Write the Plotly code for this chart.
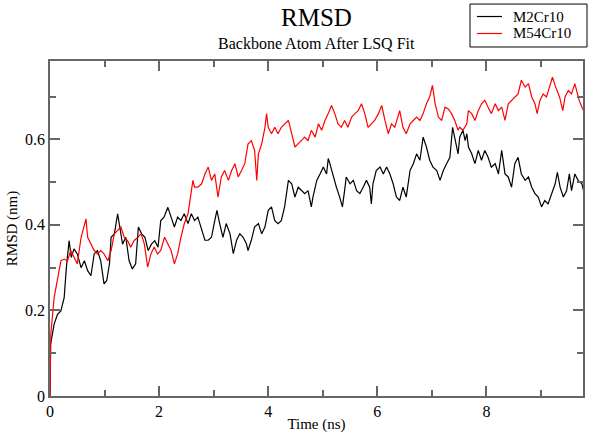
import plotly.graph_objects as go

# time (ns) and RMSD (nm)
t_m2 = [0.0, 0.01, 0.076, 0.138, 0.199, 0.26, 0.30, 0.35, 0.39, 0.44, 0.50, 0.57, 0.63, 0.69, 0.75,
        0.81, 0.87, 0.93, 0.99, 1.04, 1.09, 1.12, 1.18, 1.24, 1.27, 1.33, 1.39, 1.45, 1.51, 1.57,
        1.62, 1.68, 1.74, 1.80, 1.86, 1.92, 1.98, 2.03, 2.09, 2.16, 2.22, 2.28, 2.34, 2.40, 2.46,
        2.53, 2.59, 2.65, 2.71, 2.78, 2.84, 2.90, 2.96, 3.02, 3.06, 3.11, 3.17, 3.23, 3.30, 3.36,
        3.42, 3.48, 3.54, 3.60, 3.63, 3.69, 3.75, 3.82, 3.88, 3.94, 4.00, 4.06, 4.12, 4.18, 4.24,
        4.30, 4.37, 4.43, 4.49, 4.55, 4.61, 4.67, 4.73, 4.79, 4.82, 4.89, 4.95, 5.01, 5.07, 5.10,
        5.13, 5.19, 5.25, 5.31, 5.36, 5.40, 5.43, 5.50, 5.56, 5.62, 5.68, 5.74, 5.80, 5.86, 5.89,
        5.92, 5.98, 6.05, 6.11, 6.17, 6.23, 6.29, 6.35, 6.41, 6.47, 6.53, 6.60, 6.66, 6.72, 6.78,
        6.84, 6.90, 6.96, 7.02, 7.09, 7.15, 7.21, 7.27, 7.33, 7.38, 7.42, 7.48, 7.51, 7.57, 7.61,
        7.64, 7.67, 7.73, 7.79, 7.85, 7.91, 7.97, 8.03, 8.09, 8.16, 8.22, 8.28, 8.34, 8.40, 8.46,
        8.52, 8.58, 8.64, 8.71, 8.77, 8.83, 8.89, 8.95, 9.01, 9.07, 9.13, 9.20, 9.26, 9.30, 9.35,
        9.41, 9.47, 9.52, 9.56, 9.62, 9.68, 9.75, 9.78]
rmsd_m2 = [0.0, 0.12, 0.168, 0.191, 0.199, 0.23, 0.30, 0.363, 0.324, 0.344, 0.332, 0.30, 0.316, 0.293, 0.281,
           0.332, 0.34, 0.316, 0.262, 0.27, 0.309, 0.371, 0.379, 0.426, 0.402, 0.355, 0.371, 0.316, 0.297, 0.309,
           0.395, 0.379, 0.371, 0.34, 0.355, 0.363, 0.348, 0.41, 0.418, 0.441, 0.418, 0.395, 0.418, 0.41, 0.426,
           0.403, 0.426, 0.41, 0.418, 0.387, 0.364, 0.364, 0.371, 0.41, 0.434, 0.403, 0.371, 0.403, 0.379, 0.333,
           0.364, 0.379, 0.371, 0.356, 0.34, 0.364, 0.395, 0.403, 0.379, 0.395, 0.434, 0.442, 0.41, 0.403, 0.41,
           0.442, 0.504, 0.496, 0.465, 0.488, 0.48, 0.473, 0.48, 0.442, 0.465, 0.504, 0.519, 0.535, 0.519, 0.555,
           0.543, 0.512, 0.488, 0.465, 0.442, 0.48, 0.512, 0.496, 0.504, 0.48, 0.473, 0.488, 0.504, 0.488, 0.449,
           0.496, 0.527, 0.535, 0.519, 0.535, 0.519, 0.496, 0.465, 0.457, 0.488, 0.465, 0.527, 0.543, 0.566, 0.551,
           0.605, 0.582, 0.551, 0.535, 0.527, 0.504, 0.527, 0.543, 0.558, 0.628, 0.605, 0.566, 0.605, 0.621, 0.597,
           0.613, 0.582, 0.566, 0.543, 0.574, 0.551, 0.574, 0.558, 0.535, 0.543, 0.519, 0.574, 0.519, 0.512, 0.488,
           0.543, 0.558, 0.519, 0.504, 0.512, 0.488, 0.473, 0.465, 0.442, 0.457, 0.449, 0.473, 0.496, 0.523, 0.488,
           0.465, 0.48, 0.519, 0.48, 0.519, 0.504, 0.496, 0.48]

t_m54 = [0.0, 0.015, 0.076, 0.138, 0.199, 0.26, 0.32, 0.38, 0.44, 0.50, 0.57, 0.63, 0.66, 0.69, 0.75,
         0.81, 0.87, 0.93, 0.99, 1.06, 1.12, 1.18, 1.24, 1.30, 1.36, 1.42, 1.48, 1.54, 1.61, 1.67,
         1.73, 1.79, 1.85, 1.91, 1.97, 2.03, 2.10, 2.16, 2.22, 2.28, 2.34, 2.40, 2.46, 2.53, 2.59,
         2.62, 2.65, 2.71, 2.78, 2.84, 2.90, 2.96, 3.02, 3.08, 3.14, 3.20, 3.27, 3.33, 3.39, 3.45,
         3.51, 3.57, 3.63, 3.69, 3.75, 3.79, 3.82, 3.88, 3.94, 3.97, 4.00, 4.06, 4.12, 4.18, 4.24,
         4.30, 4.37, 4.43, 4.49, 4.55, 4.61, 4.67, 4.73, 4.79, 4.86, 4.92, 4.98, 5.04, 5.10, 5.16,
         5.22, 5.28, 5.34, 5.40, 5.46, 5.53, 5.59, 5.65, 5.71, 5.77, 5.83, 5.89, 5.95, 6.02, 6.08,
         6.14, 6.20, 6.26, 6.32, 6.41, 6.47, 6.53, 6.60, 6.66, 6.72, 6.78, 6.84, 6.90, 6.96, 7.01,
         7.06, 7.12, 7.18, 7.24, 7.30, 7.36, 7.42, 7.48, 7.51, 7.57, 7.64, 7.67, 7.73, 7.79, 7.85,
         7.91, 7.97, 8.03, 8.09, 8.16, 8.22, 8.28, 8.34, 8.40, 8.46, 8.52, 8.58, 8.64, 8.71, 8.77,
         8.83, 8.89, 8.93, 8.98, 9.04, 9.10, 9.16, 9.21, 9.27, 9.34, 9.40, 9.44, 9.50, 9.56, 9.62,
         9.67, 9.70, 9.75, 9.78]
rmsd_m54 = [0.0, 0.145, 0.23, 0.27, 0.316, 0.32, 0.316, 0.34, 0.324, 0.309, 0.371, 0.402, 0.414, 0.371, 0.355,
            0.34, 0.332, 0.34, 0.332, 0.316, 0.34, 0.379, 0.387, 0.395, 0.371, 0.363, 0.348, 0.363, 0.371, 0.379,
            0.355, 0.301, 0.332, 0.348, 0.332, 0.34, 0.371, 0.355, 0.34, 0.309, 0.332, 0.371, 0.402, 0.426, 0.473,
            0.504, 0.488, 0.488, 0.496, 0.519, 0.535, 0.504, 0.519, 0.465, 0.512, 0.527, 0.504, 0.527, 0.543, 0.512,
            0.527, 0.543, 0.589, 0.597, 0.574, 0.504, 0.566, 0.589, 0.628, 0.66, 0.628, 0.613, 0.628, 0.613, 0.628,
            0.636, 0.644, 0.613, 0.582, 0.59, 0.597, 0.605, 0.597, 0.621, 0.605, 0.636, 0.621, 0.644, 0.66, 0.679,
            0.66, 0.636, 0.628, 0.644, 0.628, 0.652, 0.66, 0.667, 0.683, 0.66, 0.628, 0.636, 0.644, 0.66, 0.679,
            0.644, 0.613, 0.636, 0.628, 0.667, 0.628, 0.613, 0.636, 0.644, 0.652, 0.644, 0.66, 0.683, 0.699, 0.726,
            0.683, 0.652, 0.644, 0.675, 0.671, 0.66, 0.644, 0.621, 0.628, 0.621, 0.636, 0.667, 0.66, 0.644, 0.667,
            0.683, 0.691, 0.675, 0.66, 0.683, 0.667, 0.675, 0.644, 0.683, 0.691, 0.699, 0.706, 0.738, 0.722, 0.73,
            0.699, 0.683, 0.66, 0.691, 0.706, 0.699, 0.722, 0.745, 0.722, 0.699, 0.667, 0.699, 0.714, 0.706, 0.73,
            0.706, 0.691, 0.675, 0.667]

names = ["M2Cr10", "M54Cr10"]
colors = ["black", "#ff0000"]

serif = "Liberation Serif, Times New Roman, serif"
frame = "#666666"

fig = go.Figure()
fig.add_trace(go.Scatter(x=t_m2, y=rmsd_m2, mode="lines", name=names[0],
                         line=dict(color=colors[0], width=1.2)))
fig.add_trace(go.Scatter(x=t_m54, y=rmsd_m54, mode="lines", name=names[1],
                         line=dict(color=colors[1], width=1.2)))

axis_common = dict(showline=True, linecolor=frame, linewidth=1.5, mirror="allticks",
                   ticks="inside", ticklen=10, tickwidth=1.5, tickcolor=frame,
                   showgrid=False, zeroline=False, automargin=False,
                   tickfont=dict(family=serif, size=16, color="black"))

fig.update_xaxes(range=[0, 9.77], tickvals=[0, 2, 4, 6, 8],
                 minor=dict(tickvals=[1, 3, 5, 7, 9], ticks="inside", ticklen=6,
                            tickwidth=1.5, tickcolor=frame),
                 title=dict(text="Time (ns)", font=dict(family=serif, size=15, color="black"),
                            standoff=0),
                 **axis_common)
fig.update_yaxes(range=[0, 0.783], tickvals=[0, 0.2, 0.4, 0.6], ticktext=["0", "0.2", "0.4", "0.6"],
                 minor=dict(tickvals=[0.1, 0.3, 0.5, 0.7], ticks="inside", ticklen=6,
                            tickwidth=1.5, tickcolor=frame),
                 title=dict(text="RMSD (nm)", font=dict(family=serif, size=15, color="black"),
                            standoff=4),
                 **axis_common)

# grace-style legend box up in the top right corner (paper coords)
legend_rows = [1.1328, 1.0821]
shapes = [dict(type="rect", xref="paper", yref="paper", x0=0.788, x1=1.0075, y0=1.0418, y1=1.170,
               line=dict(color="black", width=1), fillcolor="white", layer="above")]
annotations = []
for name, color, yrow in zip(names, colors, legend_rows):
    shapes.append(dict(type="line", xref="paper", yref="paper", x0=0.801, x1=0.848, y0=yrow, y1=yrow,
                       line=dict(color=color, width=1.2), layer="above"))
    annotations.append(dict(text=name, x=0.8668, y=yrow, xref="paper", yref="paper",
                            xanchor="left", yanchor="middle", showarrow=False, borderpad=0,
                            font=dict(family=serif, size=15, color="black")))

annotations += [
    dict(text="RMSD", x=0.5, y=1.0, xref="paper", yref="paper", yanchor="middle", yshift=44,
         showarrow=False, font=dict(family=serif, size=25, color="black")),
    dict(text="Backbone Atom After LSQ Fit", x=0.5, y=1.0, xref="paper", yref="paper",
         yanchor="middle", yshift=18, showarrow=False, font=dict(family=serif, size=16, color="black")),
]

fig.update_layout(
    width=592, height=436,
    margin=dict(l=50, r=9, t=61, b=40),
    paper_bgcolor="white", plot_bgcolor="white",
    font=dict(family=serif, color="black"),
    showlegend=False,
    shapes=shapes,
    annotations=annotations,
)

# the page's default body margin pushes the figure 8px down and right
fig.write_html("out.html", config={"displayModeBar": False},
               post_script="document.body.style.margin = '0px';")
